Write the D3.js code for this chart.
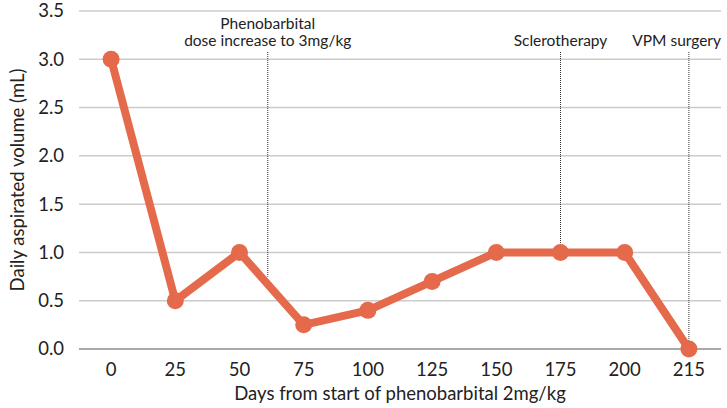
<!DOCTYPE html>
<html>
<head>
<meta charset="utf-8">
<script src="https://cdn.jsdelivr.net/npm/d3@7"></script>
<style>
  body { margin: 0; background: #fff; }
  svg { display: block; font-family: Lato, "Open Sans", sans-serif; }
  .grid line { stroke: #cccccc; stroke-width: 1.5; }
  .tick-label { font-size: 18.5px; fill: #222; }
  .axis-title { font-size: 18.5px; fill: #222; }
  .note { font-size: 15.5px; fill: #222; }
</style>
</head>
<body>
<svg id="chart" width="727" height="408"></svg>
<script>
//Data
const days = ["0", "25", "50", "75", "100", "125", "150", "175", "200", "215"];
const volume = [3.0, 0.5, 1.0, 0.25, 0.4, 0.7, 1.0, 1.0, 1.0, 0.0];
const yTicks = [0, 0.5, 1.0, 1.5, 2.0, 2.5, 3.0, 3.5];

//Events marked with dotted lines: day, value where the line stops, label lines
const noteDays = [61, 175, 215];
const noteEnds = [0.75, 1.0, 0];
const noteLabels = [["Phenobarbital", "dose increase to 3mg/kg"], ["Sclerotherapy"], ["VPM surgery"]];
const noteAnchor = ["middle", "middle", "end"];

const margin = { top: 11, right: 6, bottom: 59, left: 79 };
const width = 727 - margin.left - margin.right;
const height = 408 - margin.top - margin.bottom;

const svg = d3.select("#chart");
const g = svg.append("g").attr("transform", `translate(${margin.left},${margin.top})`);

const x = d3.scaleBand().domain(days).range([0, width]);
const y = d3.scaleLinear().domain([0, 3.5]).range([height, 0]);

//x position for a day that may fall between two categories
const xDay = day => {
  const nums = days.map(Number);
  let i = nums.findIndex(d => d >= day);
  if (nums[i] === day) return x(days[i]) + x.bandwidth() / 2;
  const a = nums[i - 1], b = nums[i];
  const xa = x(days[i - 1]), xb = x(days[i]);
  return xa + (xb - xa) * (day - a) / (b - a) + x.bandwidth() / 2;
};

//Gridlines
g.append("g").attr("class", "grid")
  .selectAll("line")
  .data(yTicks)
  .enter().append("line")
  .attr("x1", 0).attr("x2", width)
  .attr("y1", d => y(d)).attr("y2", d => y(d))
  .style("stroke", d => d === 0 ? "#8c8c8c" : null);

//Y labels
g.selectAll(".ylab")
  .data(yTicks)
  .enter().append("text")
  .attr("class", "tick-label ylab")
  .attr("x", -15)
  .attr("y", d => y(d))
  .attr("dy", "0.35em")
  .attr("text-anchor", "end")
  .text(d => d.toFixed(1));

//X labels
g.selectAll(".xlab")
  .data(days)
  .enter().append("text")
  .attr("class", "tick-label xlab")
  .attr("x", d => x(d) + x.bandwidth() / 2)
  .attr("y", height + 27)
  .attr("text-anchor", "middle")
  .text(d => d);

g.append("text")
  .attr("class", "axis-title")
  .attr("x", width / 2)
  .attr("y", height + 51)
  .attr("text-anchor", "middle")
  .text("Days from start of phenobarbital 2mg/kg");

svg.append("text")
  .attr("class", "axis-title")
  .attr("transform", `translate(24,${margin.top + height / 2}) rotate(-90)`)
  .attr("text-anchor", "middle")
  .text("Daily aspirated volume (mL)");

//Annotations
noteDays.forEach((day, i) => {
  g.append("line")
    .attr("x1", xDay(day)).attr("x2", xDay(day))
    .attr("y1", 41).attr("y2", y(noteEnds[i]))
    .attr("stroke", "#333")
    .attr("stroke-width", 1)
    .attr("stroke-dasharray", "1,1");
  const lines = noteLabels[i];
  lines.forEach((t, j) => {
    g.append("text")
      .attr("class", "note")
      .attr("x", noteAnchor[i] === "end" ? width : xDay(day))
      .attr("y", 35 - (lines.length - 1 - j) * 17.5)
      .attr("text-anchor", noteAnchor[i])
      .text(t);
  });
});

//Line and markers
const line = d3.line()
  .x((d, i) => x(days[i]) + x.bandwidth() / 2)
  .y(d => y(d));

g.append("path")
  .datum(volume)
  .attr("fill", "none")
  .attr("stroke", "#e5694b")
  .attr("stroke-width", 8)
  .attr("stroke-linejoin", "round")
  .attr("d", line);

g.selectAll(".dot")
  .data(volume)
  .enter().append("circle")
  .attr("cx", (d, i) => x(days[i]) + x.bandwidth() / 2)
  .attr("cy", d => y(d))
  .attr("r", 8.5)
  .attr("fill", "#e5694b");
</script>
</body>
</html>
